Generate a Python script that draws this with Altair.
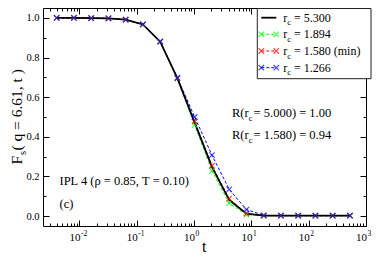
import altair as alt
import pandas as pd

# ---------------- data ----------------
t_vals = [0.004, 0.008, 0.016, 0.032, 0.064, 0.128, 0.256, 0.512, 1.024, 2.048,
          4.096, 8.192, 16.384, 32.768, 65.536, 131.072, 262.144, 524.288]
fs_5300 = [1.0, 1.0, 0.999, 0.998, 0.991, 0.967, 0.880, 0.695, 0.472, 0.248,
           0.082, 0.012, 0.002, 0.002, 0.002, 0.002, 0.002, 0.002]
fs_1894 = [1.0, 1.0, 0.999, 0.998, 0.991, 0.967, 0.880, 0.695, 0.460, 0.228,
           0.066, 0.007, 0.002, 0.002, 0.002, 0.002, 0.002, 0.002]
fs_1580 = [1.0, 1.0, 0.999, 0.998, 0.991, 0.967, 0.880, 0.695, 0.477, 0.254,
           0.088, 0.013, 0.002, 0.002, 0.002, 0.002, 0.002, 0.002]
fs_1266 = [1.0, 1.0, 0.999, 0.998, 0.991, 0.967, 0.881, 0.698, 0.500, 0.308,
           0.135, 0.033, 0.004, 0.002, 0.002, 0.002, 0.002, 0.002]

series_names = ["5.300", "1.894", "1.580 (min)", "1.266"]
series_vals = [fs_5300, fs_1894, fs_1580, fs_1266]
series_colors = ["#000000", "#00ff00", "#ff0000", "#0000ff"]

x_major = [0.01, 0.1, 1, 10, 100, 1000]
x_exponents = ["-2", "-1", "0", "1", "2", "3"]
x_minor = [m * d for d in [0.001, 0.01, 0.1, 1, 10, 100] for m in range(2, 10)]
x_minor = [v for v in x_minor if v > 0.00231]
y_major = [0.0, 0.2, 0.4, 0.6, 0.8, 1.0]
y_minor = [0.1, 0.3, 0.5, 0.7, 0.9]

r_labels = [("5.000", "1.00"), ("1.580", "0.94")]
info_text = "IPL 4 (\u03c1 = 0.85, T = 0.10)"
panel_text = "(c)"
y_title_rest = "( q = 6.61, t )"

# ---------------- layout ----------------
W, H = 323, 218
FONT = "Liberation Serif"
xs = alt.Scale(type="log", domain=[0.00231, 1000], nice=False)
ys = alt.Scale(domain=[-0.05, 1.05], nice=False, zero=False)
XMARK = "M-1,-1L1,1M-1,1L1,-1"

rows = []
for name, vals in zip(series_names, series_vals):
    for t, f in zip(t_vals, vals):
        rows.append({"t": t, "fs": f, "series": name})
df = pd.DataFrame(rows)
one = pd.DataFrame({"k": [0]})
dummy = pd.DataFrame({"t": [1.0], "fs": [0.5]})

layers = []


def tick_layer(xaxis, yaxis):
    return alt.Chart(dummy).mark_point(opacity=0).encode(
        x=alt.X("t:Q", scale=xs, axis=xaxis),
        y=alt.Y("fs:Q", scale=ys, axis=yaxis),
    )


def tick_axis(orient, values, size, offset):
    return alt.Axis(orient=orient, values=values, tickSize=size, offset=offset,
                    labels=False, domain=False, grid=False, title=None,
                    tickColor="black", tickWidth=1)


# inward ticks on all four sides
layers.append(tick_layer(tick_axis("top", x_major, 6, -H), tick_axis("right", y_major, 6, -W)))
layers.append(tick_layer(tick_axis("top", x_minor, 3, -H), tick_axis("right", y_minor, 3, -W)))
layers.append(tick_layer(tick_axis("bottom", x_major, 6, -H), tick_axis("left", y_major, 6, -W)))
layers.append(tick_layer(tick_axis("bottom", x_minor, 3, -H), tick_axis("left", y_minor, 3, -W)))
# y tick labels
layers.append(tick_layer(None, alt.Axis(orient="left", values=y_major, format=".1f", ticks=False,
                                        domain=False, grid=False, title=None, labelPadding=4,
                                        labelFont=FONT, labelFontSize=10.5, labelColor="black")))

# lines: coloured dashed first, black solid on top
for name, col in zip(series_names[1:] + series_names[:1], series_colors[1:] + series_colors[:1]):
    base = alt.Chart(df).transform_filter(alt.datum.series == name)
    if name == "5.300":
        mk = base.mark_line(color=col, strokeWidth=1.8)
    else:
        mk = base.mark_line(color=col, strokeWidth=1, strokeDash=[3, 2])
    layers.append(mk.encode(x=alt.X("t:Q", scale=xs, axis=None),
                            y=alt.Y("fs:Q", scale=ys, axis=None)))
for name, col in zip(series_names[1:], series_colors[1:]):
    layers.append(alt.Chart(df).transform_filter(alt.datum.series == name)
                  .mark_point(shape=XMARK, size=30, filled=False, strokeWidth=1.2, color=col)
                  .encode(x=alt.X("t:Q", scale=xs, axis=None),
                          y=alt.Y("fs:Q", scale=ys, axis=None)))

# x tick labels 10^n
dec_df = pd.DataFrame({"dec": x_major, "ex": x_exponents})
layers.append(alt.Chart(dec_df).mark_text(font=FONT, fontSize=11, align="right", baseline="alphabetic",
                                          dx=1, color="black")
              .encode(x=alt.X("dec:Q", scale=xs, axis=None), y=alt.value(H + 15), text=alt.value("10")))
layers.append(alt.Chart(dec_df).mark_text(font=FONT, fontSize=7.5, align="left", baseline="alphabetic",
                                          dx=1.5, color="black")
              .encode(x=alt.X("dec:Q", scale=xs, axis=None), y=alt.value(H + 10.2), text="ex:N"))


def txt(s, x, y, size=12.5, angle=0):
    kw = dict(font=FONT, fontSize=size, align="left", baseline="alphabetic", color="black")
    if angle:
        kw["angle"] = angle
    return alt.Chart(one).mark_text(**kw).encode(x=alt.value(x), y=alt.value(y), text=alt.value(s))


# axis titles
layers.append(txt("t", W / 2 - 2.5, H + 26, size=16))
yt0 = 156.5
layers.append(txt("F", -21, yt0, size=15.5, angle=270))
layers.append(txt("s", -17.5, yt0 - 9.5, size=10.5, angle=270))
layers.append(txt(y_title_rest, -21, yt0 - 13.9, size=15.5, angle=270))

# annotations
for i, (rc, rv) in enumerate(r_labels):
    yb = 109.3 + 22 * i
    layers.append(txt("R(r", 189, yb))
    layers.append(txt("c", 205.7, yb + 3.5, size=8.5))
    layers.append(txt("= %s) = %s" % (rc, rv), 210.6, yb))
layers.append(txt(info_text, 16.5, 177))
layers.append(txt(panel_text, 16.5, 199.5))

# legend
bx0, bx1 = 214.3, 328
layers.append(alt.Chart(one).mark_rect(fill="white", stroke="#222222", strokeWidth=1)
              .encode(x=alt.value(bx0), x2=alt.value(bx1), y=alt.value(0.5), y2=alt.value(70.7)))
row_c = [9.7, 26.3, 43.0, 59.7]
lx0, lx1, ltx = bx0 + 4, bx0 + 19, bx0 + 26
for i, (name, col) in enumerate(zip(series_names, series_colors)):
    yc = row_c[i]
    if i == 0:
        layers.append(alt.Chart(one).mark_rule(color=col, strokeWidth=1.8)
                      .encode(x=alt.value(lx0), x2=alt.value(lx1), y=alt.value(yc)))
    else:
        layers.append(alt.Chart(one).mark_rule(color=col, strokeWidth=1, strokeDash=[3, 2])
                      .encode(x=alt.value(lx0), x2=alt.value(lx1), y=alt.value(yc)))
        for xx in (lx0, lx1):
            layers.append(alt.Chart(one).mark_point(shape=XMARK, size=30, filled=False,
                                                    strokeWidth=1.2, color=col)
                          .encode(x=alt.value(xx), y=alt.value(yc)))
    layers.append(txt("r", ltx, yc + 4, size=12))
    layers.append(txt("c", ltx + 4, yc + 7.5, size=8.5))
    layers.append(txt("= " + name, ltx + 10.7, yc + 4, size=12))

chart = (alt.layer(*layers)
         .resolve_axis(x="independent", y="independent")
         .properties(width=W, height=H, padding={"left": 35, "top": 0, "right": 8, "bottom": 30},
                     autosize=alt.AutoSizeParams(type="none"))
         .configure_view(stroke="black", strokeWidth=1)
         .configure_axis(labelFont=FONT))

chart.save("out.html", embed_options={"renderer": "svg", "actions": False})
